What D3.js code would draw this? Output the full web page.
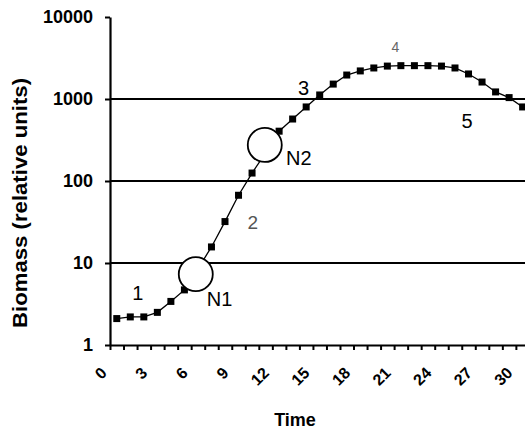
<!DOCTYPE html>
<html>
<head>
<meta charset="utf-8">
<script src="https://cdn.jsdelivr.net/npm/d3@7"></script>
<style>
  html, body { margin: 0; padding: 0; background: #fff; }
  svg { display: block; font-family: "Liberation Sans", Arial, sans-serif; }
</style>
</head>
<body>
<div id="chart"></div>
<script>
// time steps (one marker each)
const times = [0, 1, 2, 3, 4, 5, 6, 7, 8, 9, 10, 11, 12, 13, 14, 15,
  16, 17, 18, 19, 20, 21, 22, 23, 24, 25, 26, 27, 28, 29, 30];
// biomass, relative units
const biomass = [2.1, 2.2, 2.2, 2.5, 3.4, 4.7, 8.5, 15.7, 32, 67, 125, 220, 405,
  570, 800, 1120, 1520, 1960, 2200, 2390, 2520, 2550, 2550, 2550, 2520,
  2390, 2020, 1610, 1220, 1040, 800];
const xTickLabels = [0, 3, 6, 9, 12, 15, 18, 21, 24, 27, 30];
const yTicks = [1, 10, 100, 1000, 10000];
const gridValues = [10, 100, 1000];
// phase / point labels, placed in data space [time, biomass]
const labels = [
  { text: "1", t: 1.55, v: 4.3, color: "#000", size: 20 },
  { text: "N1", t: 7.6, v: 3.6, color: "#000", size: 20 },
  { text: "2", t: 10.05, v: 31.6, color: "#555", size: 19 },
  { text: "N2", t: 13.45, v: 190, color: "#000", size: 20 },
  { text: "3", t: 13.8, v: 1360, color: "#000", size: 20 },
  { text: "4", t: 20.6, v: 4300, color: "#666", size: 14 },
  { text: "5", t: 25.9, v: 540, color: "#000", size: 20 }
];
const circles = [
  { t: 5.84, v: 7.3 },
  { t: 10.94, v: 275 }
];

const W = 525, H = 430;
const svg = d3.select("#chart").append("svg")
  .attr("width", W)
  .attr("height", H);

const x = d3.scaleLinear().domain([-0.5, 30.5]).range([110, 529.4]);
const y = d3.scaleLog().domain([1, 10000]).range([345, 17]);

// grid lines
svg.append("g")
  .selectAll("line")
  .data(gridValues)
  .enter()
  .append("line")
    .attr("x1", x(-0.5))
    .attr("x2", W)
    .attr("y1", d => y(d))
    .attr("y2", d => y(d))
    .attr("stroke", "#000")
    .attr("stroke-width", 2);

// x axis, ticks between time steps
const xAxis = svg.append("g")
  .attr("transform", "translate(0," + y(1) + ")")
  .call(d3.axisBottom(x)
    .tickValues(d3.range(-0.5, 31, 1))
    .tickFormat("")
    .tickSize(5)
    .tickSizeOuter(0));
xAxis.select(".domain").attr("stroke-width", 2.2);
xAxis.selectAll(".tick line").attr("stroke-width", 2);

svg.append("g")
  .selectAll("text")
  .data(xTickLabels)
  .enter()
  .append("text")
    .attr("transform", d => "translate(" + (x(d) - 13) + ",370)rotate(-45)")
    .attr("dy", "0.35em")
    .style("text-anchor", "end")
    .style("font-size", "16px")
    .style("font-weight", "bold")
    .text(d => d);

// y axis
const yAxis = svg.append("g")
  .attr("transform", "translate(" + x(-0.5) + ",0)")
  .call(d3.axisLeft(y)
    .tickValues(yTicks)
    .tickFormat(d3.format("d"))
    .tickSize(5)
    .tickSizeOuter(0)
    .tickPadding(12));
yAxis.select(".domain").attr("stroke-width", 2.2);
yAxis.selectAll(".tick line").attr("stroke-width", 2);
yAxis.selectAll(".tick text")
  .style("font-size", "18px")
  .style("font-weight", "bold")
  .style("font-family", "'Liberation Sans', Arial, sans-serif");

// series
const pts = times.map((t, i) => ({ t: t, v: biomass[i] }));
svg.append("path")
  .datum(pts)
  .attr("fill", "none")
  .attr("stroke", "#000")
  .attr("stroke-width", 1.3)
  .attr("d", d3.line().x(d => x(d.t)).y(d => y(d.v)));

svg.append("g")
  .selectAll("rect")
  .data(pts)
  .enter()
  .append("rect")
    .attr("x", d => x(d.t) - 3.5)
    .attr("y", d => y(d.v) - 3.5)
    .attr("width", 7)
    .attr("height", 7)
    .attr("fill", "#000");

// nutrient circles
svg.append("g")
  .selectAll("circle")
  .data(circles)
  .enter()
  .append("circle")
    .attr("cx", d => x(d.t))
    .attr("cy", d => y(d.v))
    .attr("r", 17)
    .attr("fill", "#fff")
    .attr("stroke", "#000")
    .attr("stroke-width", 1.8);

svg.append("g")
  .selectAll("text")
  .data(labels)
  .enter()
  .append("text")
    .attr("x", d => x(d.t))
    .attr("y", d => y(d.v))
    .attr("dy", "0.35em")
    .style("text-anchor", "middle")
    .style("font-size", d => d.size + "px")
    .attr("fill", d => d.color)
    .text(d => d.text);

// axis titles
svg.append("text")
  .attr("transform", "translate(27,203)rotate(-90)")
  .style("text-anchor", "middle")
  .style("font-size", "21px")
  .style("font-weight", "bold")
  .attr("textLength", 250)
  .attr("lengthAdjust", "spacingAndGlyphs")
  .text("Biomass (relative units)");

svg.append("text")
  .attr("x", 295)
  .attr("y", 426)
  .style("text-anchor", "middle")
  .style("font-size", "18px")
  .style("font-weight", "bold")
  .text("Time");
</script>
</body>
</html>
